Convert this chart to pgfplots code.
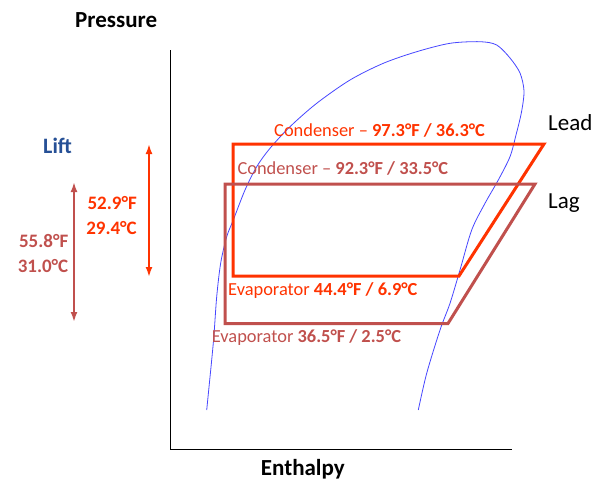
\documentclass[border=0pt]{standalone}
\usepackage{pgfplots}
\pgfplotsset{compat=1.18}
\usepackage{fontspec}
\setmainfont{Carlito}
\usetikzlibrary{arrows.meta}
\definecolor{leadc}{RGB}{255,51,0}
\definecolor{lagc}{RGB}{192,80,77}
\definecolor{domec}{RGB}{70,70,255}
\definecolor{liftc}{RGB}{38,80,150}
\begin{document}
\begin{tikzpicture}
\begin{axis}[
  scale only axis, width=603pt, height=480pt,
  xmin=0, xmax=603, ymin=0, ymax=480, y dir=reverse,
  hide axis, clip=false]
\path (axis cs:0,0) rectangle (axis cs:603,480);
% axes
\addplot[black, line width=1pt, mark=none] coordinates {(170.5,50) (170.5,449.3) (512,449.3)};
% saturation dome
\addplot[domec, line width=0.8pt, mark=none, smooth, tension=0.5] coordinates {
(206.7,410) (213.3,343) (216.7,296.7) (220.7,263) (226.7,236.7) (233.3,220) (245,190)
(256.7,166.7) (270,148.3) (290,126.7) (316.7,103.3) (350,80) (383.3,63.3) (416.7,51.7)
(450,43.3) (480,41.7) (496.7,45) (510,58) (520,73) (524,91) (521.5,112) (516,135)
(510,156.7) (498.3,180) (485,203.3) (471.7,230) (460,270) (450,303.3) (440,330)
(426.7,373.3) (418.3,410)};
% lead cycle
\addplot[leadc, line width=3pt, mark=none, line join=miter] coordinates {
(233,144) (544,144) (459,276) (233,276) (233,144)} -- cycle;
% lag cycle
\addplot[lagc, line width=3pt, mark=none, line join=miter] coordinates {
(225,184) (535,184) (448,323.5) (225,323.5) (225,184)} -- cycle;
% lift arrows
\addplot[leadc, line width=2.3pt, mark=none, {Latex[length=10pt,width=7pt]}-{Latex[length=10pt,width=7pt]}] coordinates {(149,144) (149,277)};
\addplot[lagc, line width=2.3pt, mark=none, {Latex[length=10pt,width=7pt]}-{Latex[length=10pt,width=7pt]}] coordinates {(74,182) (74,322)};
% texts
\node[anchor=base west, inner sep=0pt, font=\fontsize{23}{26}\selectfont\bfseries] at (axis cs:75,27.5) {Pressure};
\node[anchor=base west, inner sep=0pt, font=\fontsize{23}{26}\selectfont\bfseries] at (axis cs:260.7,475) {Enthalpy};
\node[anchor=base west, inner sep=0pt, font=\fontsize{23}{26}\selectfont] at (axis cs:548,130) {Lead};
\node[anchor=base west, inner sep=0pt, font=\fontsize{23}{26}\selectfont] at (axis cs:548,208) {Lag};
\node[anchor=base west, inner sep=0pt, text=liftc, font=\fontsize{22}{26}\selectfont\bfseries] at (axis cs:43,153.3) {Lift};
\node[anchor=base east, inner sep=0pt, text=leadc, font=\fontsize{19}{22}\selectfont\bfseries] at (axis cs:137,209) {52.9°F};
\node[anchor=base east, inner sep=0pt, text=leadc, font=\fontsize{19}{22}\selectfont\bfseries] at (axis cs:137,234) {29.4°C};
\node[anchor=base east, inner sep=0pt, text=lagc, font=\fontsize{19}{22}\selectfont\bfseries] at (axis cs:68.5,247.3) {55.8°F};
\node[anchor=base east, inner sep=0pt, text=lagc, font=\fontsize{19}{22}\selectfont\bfseries] at (axis cs:68.5,272.7) {31.0°C};
\node[anchor=base west, inner sep=0pt, text=leadc, font=\fontsize{18.4}{22}\selectfont] at (axis cs:274,136.5) {Condenser – \textbf{97.3°F / 36.3°C}};
\node[anchor=base west, inner sep=0pt, text=lagc, font=\fontsize{18.4}{22}\selectfont] at (axis cs:237.3,174) {Condenser – \textbf{92.3°F / 33.5°C}};
\node[anchor=base west, inner sep=0pt, text=leadc, font=\fontsize{18.4}{22}\selectfont] at (axis cs:228,295) {Evaporator \textbf{44.4°F / 6.9°C}};
\node[anchor=base west, inner sep=0pt, text=lagc, font=\fontsize{18.4}{22}\selectfont] at (axis cs:211.7,342.7) {Evaporator \textbf{36.5°F / 2.5°C}};
\end{axis}
\end{tikzpicture}
\end{document}
